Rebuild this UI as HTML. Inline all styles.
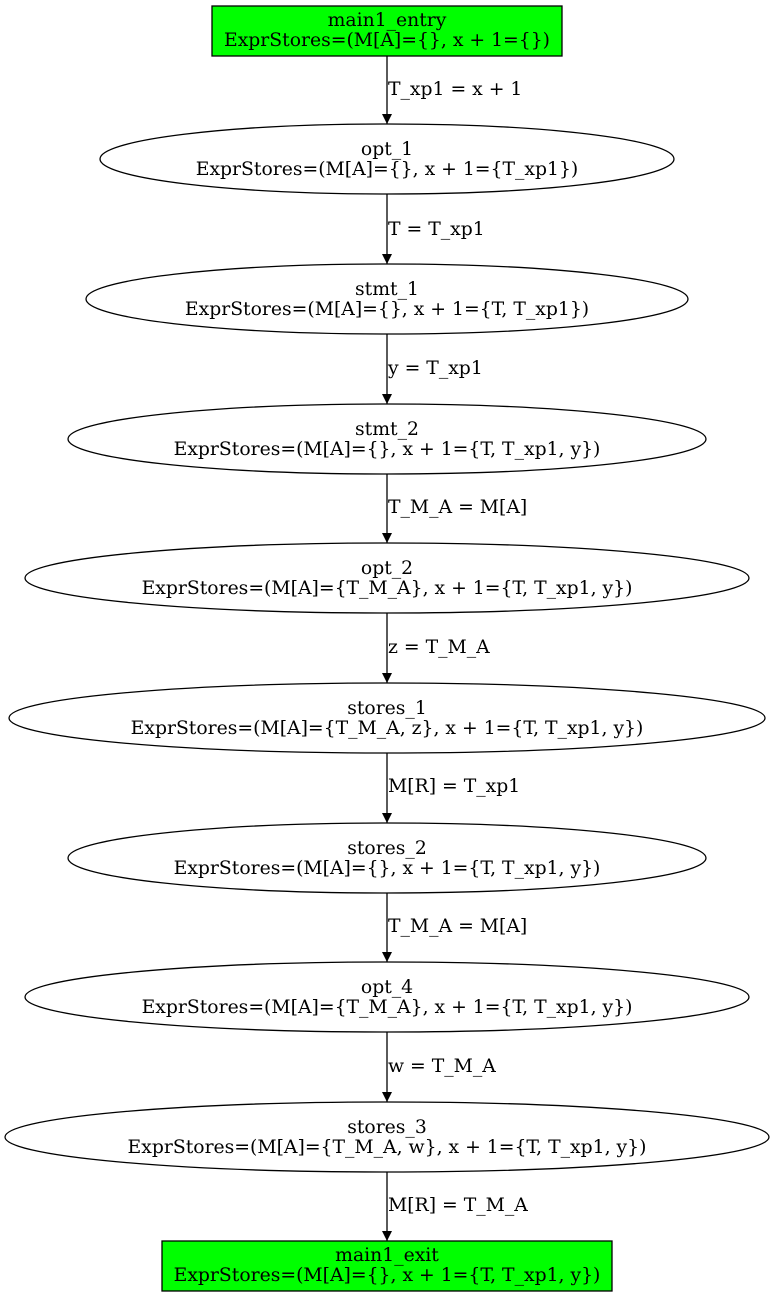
<!DOCTYPE html>
<html><head><meta charset="utf-8"><style>
html,body{margin:0;padding:0;background:#fff;}
svg text{font-family:"DejaVu Serif","Liberation Serif",serif;font-size:18.8px;fill:#000;}
</style></head><body>
<svg width="774" height="1297" viewBox="0 0 774 1297" xmlns="http://www.w3.org/2000/svg">
<defs><marker id="a" markerWidth="10" markerHeight="12" refX="10" refY="6" orient="auto" markerUnits="userSpaceOnUse"><path d="M0,1 L10,6 L0,11 z" fill="#000"/></marker></defs>
<g stroke="#000" stroke-width="1.3" fill="none">
<rect x="212" y="6" width="350" height="50" fill="#00ff00"/>
<ellipse cx="387" cy="159" rx="287" ry="35"/>
<ellipse cx="387" cy="299" rx="301" ry="35"/>
<ellipse cx="387" cy="439" rx="319" ry="35"/>
<ellipse cx="387" cy="578" rx="362" ry="35"/>
<ellipse cx="387" cy="718" rx="378" ry="35"/>
<ellipse cx="387" cy="858" rx="319" ry="35"/>
<ellipse cx="387" cy="997" rx="362" ry="35"/>
<ellipse cx="387" cy="1137" rx="382" ry="35"/>
<rect x="162" y="1241" width="450" height="50" fill="#00ff00"/>
<line x1="387" y1="56" x2="387" y2="124" marker-end="url(#a)"/>
<line x1="387" y1="194" x2="387" y2="264" marker-end="url(#a)"/>
<line x1="387" y1="334" x2="387" y2="404" marker-end="url(#a)"/>
<line x1="387" y1="474" x2="387" y2="543" marker-end="url(#a)"/>
<line x1="387" y1="613" x2="387" y2="683" marker-end="url(#a)"/>
<line x1="387" y1="753" x2="387" y2="823" marker-end="url(#a)"/>
<line x1="387" y1="893" x2="387" y2="962" marker-end="url(#a)"/>
<line x1="387" y1="1032" x2="387" y2="1102" marker-end="url(#a)"/>
<line x1="387" y1="1172" x2="387" y2="1241" marker-end="url(#a)"/>
</g>
<g text-anchor="middle">
<text x="387" y="26">main1_entry</text>
<text x="387" y="46">ExprStores=(M[A]={}, x + 1={})</text>
<text x="387" y="155">opt_1</text>
<text x="387" y="175">ExprStores=(M[A]={}, x + 1={T_xp1})</text>
<text x="387" y="295">stmt_1</text>
<text x="387" y="315">ExprStores=(M[A]={}, x + 1={T, T_xp1})</text>
<text x="387" y="435">stmt_2</text>
<text x="387" y="455">ExprStores=(M[A]={}, x + 1={T, T_xp1, y})</text>
<text x="387" y="574">opt_2</text>
<text x="387" y="594">ExprStores=(M[A]={T_M_A}, x + 1={T, T_xp1, y})</text>
<text x="387" y="714">stores_1</text>
<text x="387" y="734">ExprStores=(M[A]={T_M_A, z}, x + 1={T, T_xp1, y})</text>
<text x="387" y="854">stores_2</text>
<text x="387" y="874">ExprStores=(M[A]={}, x + 1={T, T_xp1, y})</text>
<text x="387" y="993">opt_4</text>
<text x="387" y="1013">ExprStores=(M[A]={T_M_A}, x + 1={T, T_xp1, y})</text>
<text x="387" y="1133">stores_3</text>
<text x="387" y="1153">ExprStores=(M[A]={T_M_A, w}, x + 1={T, T_xp1, y})</text>
<text x="387" y="1261">main1_exit</text>
<text x="387" y="1281">ExprStores=(M[A]={}, x + 1={T, T_xp1, y})</text>
</g>
<g>
<text x="388" y="95">T_xp1 = x + 1</text>
<text x="388" y="235">T = T_xp1</text>
<text x="388" y="374">y = T_xp1</text>
<text x="388" y="513">T_M_A = M[A]</text>
<text x="388" y="653">z = T_M_A</text>
<text x="388" y="792">M[R] = T_xp1</text>
<text x="388" y="932">T_M_A = M[A]</text>
<text x="388" y="1072">w = T_M_A</text>
<text x="388" y="1211">M[R] = T_M_A</text>
</g>
</svg>
</body></html>
